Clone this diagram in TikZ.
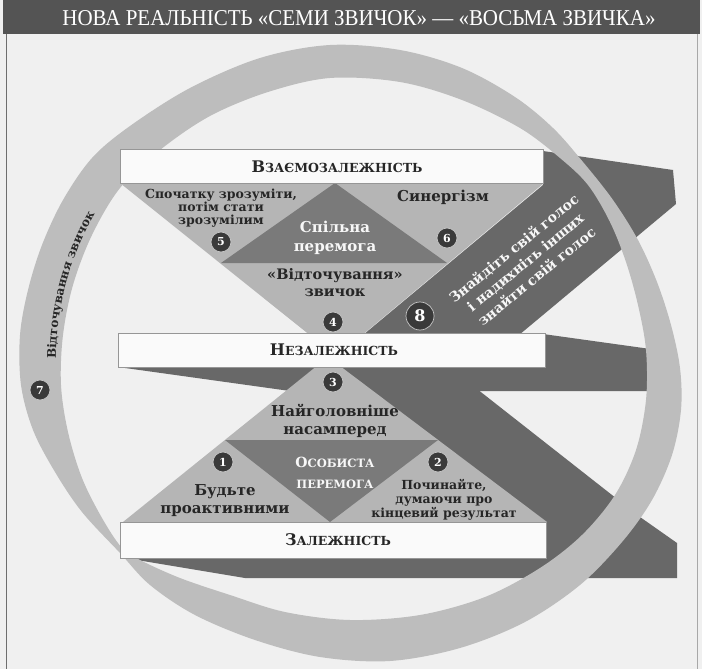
\documentclass[tikz,border=0pt]{standalone}
\usepackage{fontspec}
\usepackage{graphicx}
\setmainfont{DejaVu Serif}
\newfontfamily\titlefont{Liberation Serif}
\usetikzlibrary{calc,decorations.text}

\definecolor{bgc}{RGB}{240,240,240}
\definecolor{titlec}{RGB}{84,84,84}
\definecolor{framec}{RGB}{110,110,110}
\definecolor{ringc}{RGB}{189,189,189}
\definecolor{lightc}{RGB}{181,181,181}
\definecolor{darktri}{RGB}{122,122,122}
\definecolor{bandc}{RGB}{104,104,104}
\definecolor{numc}{RGB}{58,58,58}
\definecolor{inkc}{RGB}{38,38,38}
\definecolor{barc}{RGB}{250,250,250}
\definecolor{barline}{RGB}{150,150,150}

% fake small caps: big initial, smaller capitals
\newcommand\fsc[4]{{\fontsize{#1}{#1}\selectfont #3}{\fontsize{#2}{#2}\selectfont #4}}

\begin{document}
\begin{tikzpicture}[x=1pt,y=-1pt,
  barbox/.style={fill=barc,draw=barline,line width=0.8pt},
  barlabel/.style={text=inkc,inner sep=0pt,font=\bfseries},
  lbl/.style 2 args={text=inkc,align=center,inner sep=0pt,font=\bfseries\fontsize{#1}{#2}\selectfont},
  wlbl/.style 2 args={text=white!94!gray,align=center,inner sep=0pt,font=\bfseries\fontsize{#1}{#2}\selectfont},
  num/.style={circle,fill=numc,draw=gray!45,line width=0.7pt,minimum size=20pt,inner sep=0pt,text=white,font=\bfseries\fontsize{11}{11}\selectfont},
  bignum/.style={num,minimum size=28pt,font=\bfseries\fontsize{16}{16}\selectfont},
]
\useasboundingbox (0,0) rectangle (702,669);
\fill[bgc] (0,0) rectangle (702,669);

% title strip and frame
\fill[titlec] (3,0) rectangle (700,34);
\draw[framec,line width=1pt] (6,34) -- (6,669);
\draw[framec!60,line width=0.8pt] (697,34) -- (697,669);
\node[text=white,inner sep=0pt] (title) at (359,18)
  {\resizebox{593pt}{15pt}{\titlefont НОВА РЕАЛЬНІСТЬ «СЕМИ ЗВИЧОК» — «ВОСЬМА ЗВИЧКА»}};

% dark ribbon: middle stroke with its flag, lower diagonal and bottom stroke
\fill[bandc] (118,367) -- (290,391) -- (672,391) -- (672,352) -- (543,334) -- (543,345) -- (118,345) -- cycle;
\fill[bandc] (400,389) -- (477,389) -- (640,517) -- (677,543) -- (677,578) -- (245,578)
  -- (125,558) -- (125,545) -- (530,545) -- (345,380) -- cycle;

% private victory
\fill[lightc] (328,357) -- (547,522) -- (123,522) -- cycle;
\fill[darktri] (225,440) -- (438,440) -- (330,522) -- cycle;

% public victory
\fill[lightc] (120,183) -- (544,183) -- (361,336) -- (311,336) -- cycle;
\fill[darktri] (335,183) -- (447,263) -- (221,263) -- cycle;

% upper diagonal of the ribbon
\fill[bandc] (357,340) -- (543,185) -- (543,151) -- (673,170) -- (676,204) -- (513,340) -- cycle;

% the renewal ring
\fill[ringc,even odd rule]
  plot[smooth cycle,tension=0.55] coordinates {
    (330,45) (400,50) (462,68) (515,97) (553,128) (583,162) (613,200) (638,240)
    (657,282) (671,325) (680,368) (681,410) (672,455) (652,500) (622,542) (580,585)
    (525,622) (460,648) (390,661) (320,657) (255,640) (195,615) (150,585) (120,553)
    (82,512) (55,472) (33,430) (21,385) (20,335) (28,290) (42,245) (63,200)
    (92,158) (130,126) (190,88) (260,58)}
  plot[smooth cycle,tension=0.55] coordinates {
    (330,78) (400,82) (462,100) (520,128) (560,158) (588,185) (610,222) (626,262)
    (638,305) (646,350) (646,400) (636,450) (615,495) (582,535) (540,568) (485,597)
    (420,615) (350,620) (285,612) (230,595) (180,578) (140,560) (122,548) (102,518)
    (82,478) (68,432) (61,385) (63,335) (73,285) (92,235) (120,188) (160,150)
    (210,116) (268,92)};

% levels of maturity
\path[barbox] (120,149) rectangle (543,183);
\path[barbox] (118,333) rectangle (545,367);
\path[barbox] (120,522) rectangle (546,558);
\node[barlabel] (interdep) at (337,167) {\fsc{16}{12.5}{В}{ЗАЄМОЗАЛЕЖНІСТЬ}};
\node[barlabel] (indep) at (334,350) {\fsc{16}{12.5}{Н}{ЕЗАЛЕЖНІСТЬ}};
\node[barlabel] (dep) at (338,540) {\fsc{16}{12.5}{З}{АЛЕЖНІСТЬ}};

% habit texts
\node[lbl={12.5}{13}] (h5) at (221,208) {Спочатку зрозуміти,\\потім стати\\зрозумілим};
\node[lbl={15}{16}] (h6) at (443,197) {Синергізм};
\node[wlbl={15}{19}] (pubv) at (335,238) {Спільна\\перемога};
\node[lbl={14.5}{17}] (h4) at (335,283) {«Відточування»\\звичок};
\node[lbl={15}{18}] (h3) at (335,421) {Найголовніше\\насамперед};
\node[wlbl={14}{21}] (privv) at (335,473) {\fsc{14}{11.5}{О}{СОБИСТА}\\\fsc{11.5}{11.5}{П}{ЕРЕМОГА}};
\node[lbl={15}{18}] (h1) at (225,501) {Будьте\\проактивними};
\node[lbl={12.5}{14}] (h2) at (444,500) {Починайте,\\думаючи про\\кінцевий результат};
\node[wlbl={14}{18},rotate=39.2] (voice) at (525,262)
  {Знайдіть свій голос\\і надихніть інших\\знайти свій голос};

% text along the ring
\coordinate (rc) at (350,360);
\path[decorate,decoration={text along path,text align=center,text color=inkc,
  text={|\bfseries\fontsize{12}{12}\selectfont|Відточування звичок}}]
  ($(rc)+(200:294pt)$) arc[start angle=200,end angle=130,radius=294pt];

% numbered markers
\node[num] (n1) at (223,462) {1};
\node[num] (n2) at (438,462) {2};
\node[num] (n3) at (333,382) {3};
\node[num] (n4) at (333,322) {4};
\node[num] (n5) at (221,242) {5};
\node[num] (n6) at (447,238) {6};
\node[num] (n7) at (40,390) {7};
\node[bignum] (n8) at (420,316) {8};
\end{tikzpicture}
\end{document}
